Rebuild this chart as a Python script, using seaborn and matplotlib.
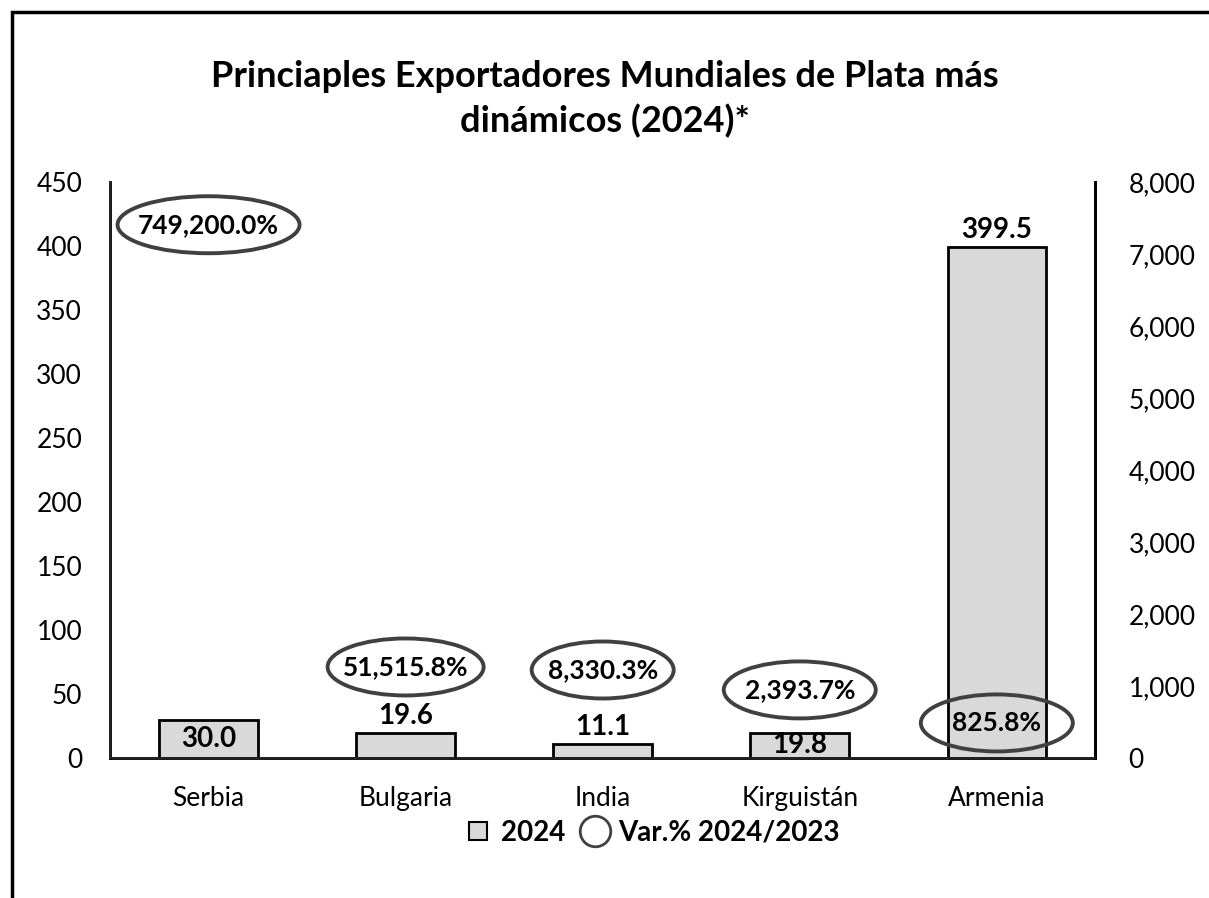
import numpy as np
import pandas as pd
import seaborn as sns
from matplotlib import pyplot as plt
from matplotlib.patches import Rectangle, Ellipse
from matplotlib.lines import Line2D
from matplotlib.transforms import IdentityTransform

# data
countries = ["Serbia", "Bulgaria", "India", "Kirguistán", "Armenia"]
exports_2024 = [30.0, 19.6, 11.1, 19.8, 399.5]
var_pct = [749200.0, 51515.8, 8330.3, 2393.7, 825.8]
# where the var.% labels sit on the right axis (Excel moved them by hand)
var_label_y = [7410, 1264, 1222, 945, 486]
# ellipse widths round each var.% label, in pixels
ellipse_w = [182, 156, 142, 152, 152]
# which bar labels sit inside the bar
label_inside = [True, False, False, True, False]

sns.set_theme(style="white")
plt.rcParams['font.family'] = ['Lato', 'DejaVu Sans']
plt.rcParams['text.color'] = 'black'

df = pd.DataFrame({"pais": countries, "valor": exports_2024})

fig = plt.figure(figsize=(12.09, 8.98), dpi=100)
ax = fig.add_axes([0.091, 0.156, 0.815, 0.641])

sns.barplot(data=df, x="pais", y="valor", ax=ax, color="#d9d9d9",
            edgecolor="black", linewidth=2, width=0.5, saturation=1)
ax.set_ylim(0, 450)
ax.set_yticks(np.arange(0, 451, 50))
ax.set_xlabel("")
ax.set_ylabel("")
ax.tick_params(axis="both", length=0, labelsize=19, colors="black")
ax.tick_params(axis="x", pad=20)
ax.tick_params(axis="y", pad=20)
ax.spines["top"].set_visible(False)
for s in ["left", "bottom", "right"]:
    ax.spines[s].set_color("black")
    ax.spines[s].set_linewidth(2)

for i, v in enumerate(exports_2024):
    if label_inside[i]:
        ax.text(i, v / 2, f"{v:.1f}", ha="center", va="center",
                fontsize=20, fontweight="bold")
    else:
        ax.text(i, v + 3, f"{v:.1f}", ha="center", va="bottom",
                fontsize=20, fontweight="bold")

ax2 = ax.twinx()
ax2.set_ylim(0, 8000)
ax2.set_yticks(np.arange(0, 8001, 1000))
ax2.set_yticklabels([f"{t:,}" for t in range(0, 8001, 1000)])
ax2.tick_params(axis="y", length=0, labelsize=19, colors="black", pad=24)
ax2.spines["top"].set_visible(False)
ax2.spines["right"].set_color("black")
ax2.spines["right"].set_linewidth(2)
ax2.grid(False)
ax.grid(False)

for i, (v, yl) in enumerate(zip(var_pct, var_label_y)):
    ax2.text(i, yl, f"{v:,.1f}%", ha="center", va="center", fontsize=19,
             fontweight="bold")
    cx, cy = ax2.transData.transform((i, yl))
    fig.add_artist(Ellipse((cx, cy), ellipse_w[i], 57, fill=False,
                           ec="#404040", lw=2.8,
                           transform=IdentityTransform()))

fig.text(0.5, 1 - 99 / 898, "Princiaples Exportadores Mundiales de Plata más\ndinámicos (2024)*",
         ha="center", va="center", fontsize=26, fontweight="bold",
         linespacing=1.4)

handles = [
    Line2D([], [], marker="s", ls="none", mfc="#d9d9d9", mec="black",
           markersize=13, mew=1.5),
    Line2D([], [], marker="o", ls="none", mfc="none", mec="#404040",
           markersize=22, mew=2),
]
fig.legend(handles, ["2024", "Var.% 2024/2023"], loc="center",
           bbox_to_anchor=(0.538, 1 - 833 / 898), ncol=2, frameon=False,
           prop={"weight": "bold", "size": 20}, handletextpad=0.2,
           columnspacing=0.5, handlelength=1.2)

fig.patches.append(Rectangle((12 / 1209, -0.5), 2, 0.5 + 1 - 12 / 898,
                             transform=fig.transFigure, fill=False,
                             ec="black", lw=2.5))

fig.savefig("out.png", dpi=100)
